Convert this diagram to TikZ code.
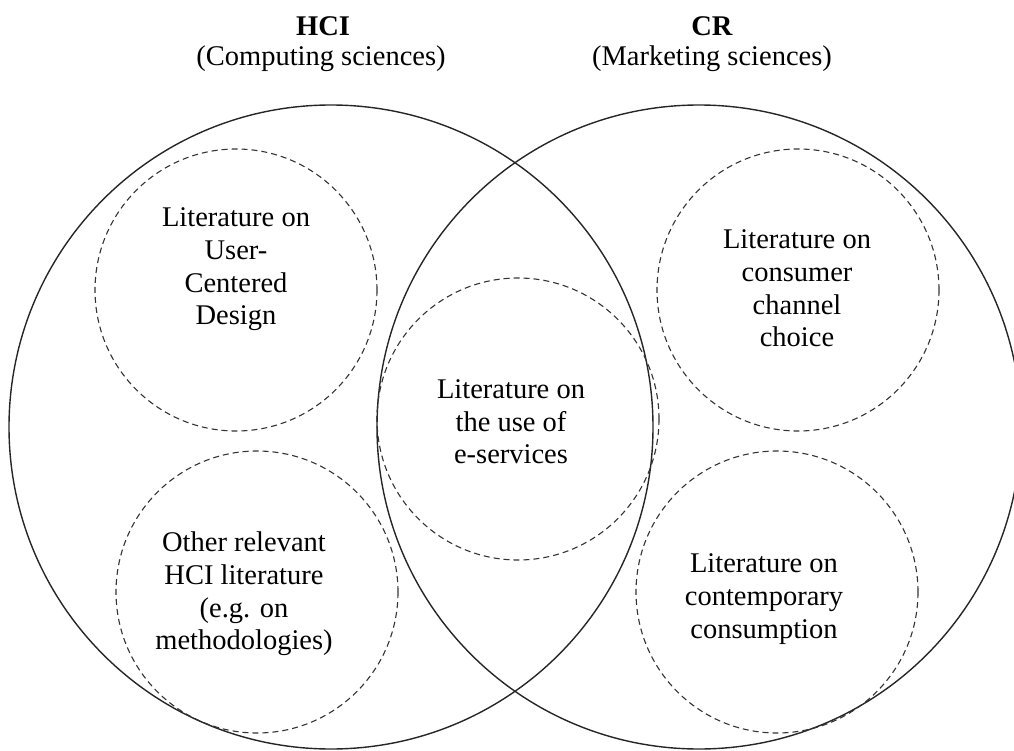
\documentclass[tikz,border=0pt]{standalone}
\usepackage{fontspec}
\setmainfont{Liberation Serif}
\begin{document}
\begin{tikzpicture}[x=1pt,y=-1pt,
  bigset/.style={circle, draw=black!85, line width=1.4pt, minimum size=644pt, inner sep=0pt},
  subset/.style={circle, draw=black!80, line width=1.1pt, dash pattern=on 6pt off 4pt, minimum size=282pt, inner sep=0pt},
  lbl/.style={align=center, inner sep=0pt, font=\fontsize{28.5}{32.7}\selectfont}]
\useasboundingbox (0,0) rectangle (1014,751);
% big sets
\node[bigset] (hcic) at (331,427) {};
\node[bigset] (crc) at (699,427) {};
% dashed subsets
\node[subset] (ucd) at (236,290) {};
\node[subset] (other) at (257,592) {};
\node[subset] (eserv) at (518,419) {};
\node[subset] (choice) at (798,290) {};
\node[subset] (consum) at (777,592) {};
% titles
\node[lbl, anchor=base] (hcit) at (323,36) {\textbf{HCI}};
\node[lbl, anchor=base] (hcis) at (321,66) {(Computing sciences)};
\node[lbl, anchor=base] (crt) at (712,36) {\textbf{CR}};
\node[lbl, anchor=base] (crs) at (712,66) {(Marketing sciences)};
% labels
\node[lbl] (ucdt) at (236,269.5) {Literature on\\User-\\Centered\\Design};
\node[lbl] (othert) at (244,594) {Other relevant\\HCI literature\\(e.g. on\\methodologies)};
\node[lbl] (eservt) at (511,422) {Literature on\\the use of\\e-services};
\node[lbl] (choicet) at (797,288.5) {Literature on\\consumer\\channel\\choice};
\node[lbl] (consumt) at (764,599) {Literature on\\contemporary\\consumption};
\end{tikzpicture}
\end{document}
